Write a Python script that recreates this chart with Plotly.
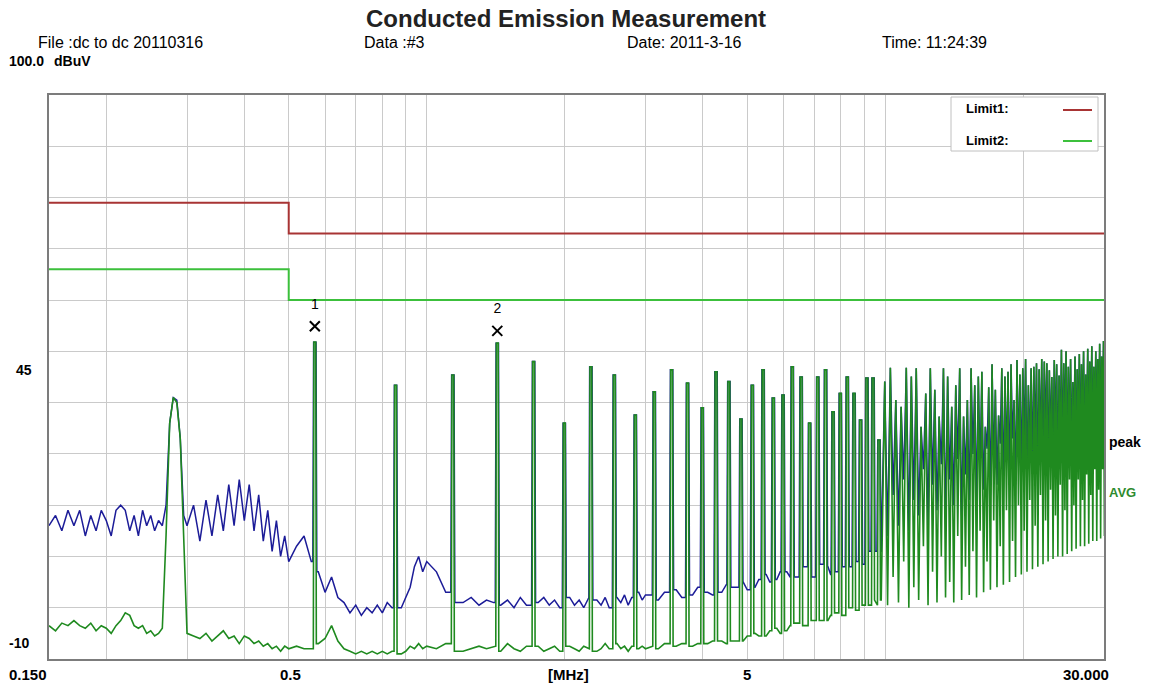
import math
import plotly.graph_objects as go

# ---------------- data ----------------
limit1_freq = [0.15, 0.5, 30.0]
limit1_level = [79, 73, 73]
limit2_freq = [0.15, 0.5, 30.0]
limit2_level = [66, 60, 60]

grid_freq = [0.2, 0.3, 0.4, 0.5, 0.6, 0.7, 0.8, 0.9, 1, 2, 3, 4, 5, 6, 7, 8, 9, 10, 20]
grid_level = [-10, 0, 10, 20, 30, 40, 50, 60, 70, 80, 90, 100]

# harmonic lines (MHz) and their levels (dBuV)
harm_freq = [
    0.570, 0.855, 1.140, 1.425, 1.710, 1.995, 2.280, 2.565, 2.850, 3.135,
    3.420, 3.705, 3.990, 4.275, 4.560, 4.845, 5.130, 5.415, 5.700, 5.985,
    6.270, 6.555, 6.840, 7.125, 7.410, 7.695, 7.980, 8.265, 8.550, 8.835,
    9.120, 9.405, 9.690, 9.975, 10.260, 10.545, 10.830, 11.115, 11.400, 11.685,
    11.970, 12.255, 12.540, 12.825, 13.110, 13.395, 13.680, 13.965, 14.250, 14.535,
    14.820, 15.105, 15.390, 15.675, 15.960, 16.245, 16.530, 16.815, 17.100, 17.385,
    17.670, 17.955, 18.240, 18.525, 18.810, 19.095, 19.380, 19.665, 19.950, 20.235,
    20.520, 20.805, 21.090, 21.375, 21.660, 21.945, 22.230, 22.515, 22.800, 23.085,
    23.370, 23.655, 23.940, 24.225, 24.510, 24.795, 25.080, 25.365, 25.650, 25.935,
    26.220, 26.505, 26.790, 27.075, 27.360, 27.645, 27.930, 28.215, 28.500, 28.785,
    29.070, 29.355, 29.640, 29.925,
]
harm_level = [
    51.8, 43.4, 45.4, 51.6, 48.0, 36.0, 47.0, 45.4, 37.6, 42.1,
    46.4, 43.8, 39.0, 46.0, 44.1, 36.8, 43.4, 46.4, 40.9, 41.5,
    47.0, 45.0, 36.0, 45.0, 46.4, 38.2, 41.8, 45.0, 41.8, 36.6,
    44.8, 44.8, 32.7, 44.1, 46.8, 40.5, 39.2, 46.8, 45.1, 46.7,
    35.3, 41.8, 46.7, 42.5, 37.3, 46.7, 45.1, 39.2, 43.4, 46.7,
    37.3, 40.5, 46.7, 43.4, 45.1, 46.0, 35.3, 43.0, 47.5, 42.5,
    37.5, 46.7, 45.1, 46.0, 47.5, 40.5, 48.3, 45.5, 46.7, 48.5,
    43.4, 46.7, 47.0, 47.7, 46.5, 48.5, 48.0, 47.7, 46.3, 45.0,
    48.3, 47.5, 45.3, 50.3, 47.7, 50.0, 47.0, 48.5, 44.0, 49.0,
    46.5, 49.5, 47.5, 50.0, 45.5, 50.5, 48.0, 51.0, 47.0, 50.0,
    48.5, 51.5, 49.0, 52.0,
]

# level of the trough that follows each line from 9.975 MHz (n=35) up to 29.925 MHz
dip_first_harm = 9.975
avg_dip = [
    0.5, 6, 1, 9, 0, 4, 1.5, 12, 0.5, 7,
    1, 10, 2, 5, 1, 14, 1.5, 8, 2.5, 11,
    2, 15, 3, 9, 3.5, 17, 4, 12, 4.5, 19,
    5, 13, 6, 20, 6.5, 15, 7, 21, 7.5, 16,
    8, 22, 8.5, 17, 9, 23, 9.5, 18, 10, 24,
    10, 19, 10.5, 25, 11, 20, 11.5, 25, 12, 21,
    12, 26, 12.5, 22, 13, 27, 13, 23, 13.5, 27, 14,
]
peak_dip = [
    14, 22, 16, 25, 15, 21, 18, 27, 16, 24,
    19, 28, 17, 25, 20, 29, 18, 26, 21, 30,
    20, 27, 23, 31, 22, 28, 24, 32, 23, 29,
    25, 33, 24, 30, 26, 33, 25, 31, 27, 34,
    26, 32, 28, 35, 27, 33, 29, 35, 28, 34,
    30, 36, 29, 34, 31, 36, 30, 35, 32, 37,
    31, 35, 33, 37, 32, 36, 34, 38, 33, 37, 35,
]

# background between the lines, 0.15 - 10 MHz
floor_freq = [
    0.150, 0.155, 0.160, 0.165, 0.170, 0.175, 0.180, 0.185, 0.190, 0.195,
    0.200, 0.205, 0.210, 0.215, 0.220, 0.225, 0.230, 0.235, 0.240, 0.245,
    0.250, 0.255, 0.260, 0.265, 0.270, 0.275, 0.280, 0.285, 0.290, 0.295, 0.300,
    0.31, 0.32, 0.33, 0.34, 0.35, 0.36, 0.37, 0.38, 0.39, 0.40,
    0.41, 0.42, 0.43, 0.44, 0.45, 0.46, 0.47, 0.48, 0.49, 0.50,
    0.52, 0.54, 0.56, 0.58, 0.60, 0.62, 0.64, 0.66, 0.68, 0.70,
    0.72, 0.74, 0.76, 0.78, 0.80, 0.82, 0.84, 0.86, 0.88, 0.90,
    0.92, 0.94, 0.96, 0.98, 1.00,
    1.05, 1.10, 1.15, 1.20, 1.25, 1.30, 1.35, 1.40, 1.45, 1.50,
    1.55, 1.60, 1.65, 1.70, 1.75, 1.80, 1.85, 1.90, 1.95, 2.00,
    2.05, 2.10, 2.15, 2.20, 2.25, 2.30, 2.35, 2.40, 2.45, 2.50,
    2.55, 2.60, 2.65, 2.70, 2.75, 2.80, 2.85, 2.90, 2.95, 3.00,
    3.1, 3.2, 3.3, 3.4, 3.5, 3.6, 3.7, 3.8, 3.9, 4.0,
    4.1, 4.2, 4.3, 4.4, 4.5, 4.6, 4.7, 4.8, 4.9, 5.0,
    5.1, 5.2, 5.3, 5.4, 5.5, 5.6, 5.7, 5.8, 5.9, 6.0,
    6.1, 6.2, 6.3, 6.4, 6.5, 6.6, 6.7, 6.8, 6.9, 7.0,
    7.1, 7.2, 7.3, 7.4, 7.5, 7.6, 7.7, 7.8, 7.9, 8.0,
    8.1, 8.2, 8.3, 8.4, 8.5, 8.6, 8.7, 8.8, 8.9, 9.0,
    9.1, 9.2, 9.3, 9.4, 9.5, 9.6, 9.7, 9.8, 9.9, 10.0,
]
peak_floor = [
    16, 18, 15, 19, 16, 19, 14, 18, 15, 19,
    17, 14, 19, 20, 19, 15, 18, 14, 19, 16,
    18, 15, 17, 16, 20, 36, 41, 40.5, 33, 18, 16,
    20, 13, 21, 14, 22, 15, 24, 16, 25, 17,
    24, 15, 22, 13, 19, 11, 17, 10, 14, 9,
    12, 14, 9, 7, 3, 6, 2, 1, -1, 0.5,
    -1.5, 0, -1, 0.5, -1, 1, 0, 1.5, 0, 2,
    4, 8, 10, 7, 9,
    7, 3, 5, 1, 2, 0.5, 1.5, 1, 0.5, 1.5,
    0, 2, 0.5, 1, 1, 2, 0.5, 1.5, 0, 1,
    2, 0.5, 1.5, 0, 2, 1, 1.5, 0.5, 2, 0,
    1, 2, 1, 2.5, 0.5, 2, 2, 3, 1.5, 2.5,
    2.5, 1.5, 3, 2, 3.5, 2, 3, 2.5, 4, 2,
    3, 2.5, 4, 3, 4.5, 3, 4, 3.5, 5, 3.5,
    5, 4, 5.5, 4.5, 6.5, 5, 6, 5.5, 7, 5.5,
    7, 6, 7.5, 6, 7, 6.5, 8, 6.5, 7.5, 6,
    7.5, 7, 8.5, 7, 8, 6.5, 7.5, 7, 8.5, 7.5,
    8, 7, 9, 8, 9.5, 8, 9, 8.5, 10, 8.5,
    10, 9, 11, 9.5, 11.5, 10, 12.5, 11, 14, 12,
]
avg_floor = [
    -3.5, -4.5, -3, -3.5, -2.5, -3.5, -4, -3, -4.5, -3.5,
    -4, -5, -3.5, -2.5, -1, -1.5, -3.5, -4, -3.5, -5,
    -4.5, -5.5, -5, -4, 14, 36, 41, 40, 33, 15, -5,
    -5.5, -6, -5, -6.5, -5.5, -4.5, -6, -5.5, -7, -5.5,
    -6, -7, -6.5, -7.5, -7, -8, -7.5, -8.5, -7.5, -8,
    -7.5, -8, -8, -7, -6, -3.5, -6.5, -8, -8.5, -9,
    -8.5, -9, -8.5, -9, -8.5, -9, -8.5, -8, -9, -8.5,
    -7.5, -8, -7, -8, -7.5,
    -8, -7, -8, -8.5, -8, -7.5, -8, -7.5, -8.5, -7,
    -8, -8.5, -7.5, -8, -7.5, -8.5, -8, -7.5, -8.5, -8,
    -7.5, -8, -8.5, -7.5, -8, -7.5, -8.5, -8, -7, -8,
    -7.5, -7, -8, -7.5, -8.5, -7.5, -7, -8, -7.5, -8,
    -7.5, -8, -7, -8.5, -7.5, -7, -8, -7.5, -7, -8,
    -7, -6.5, -7.5, -6.5, -7, -6, -6.5, -5.5, -6.5, -5.5,
    -6, -5, -5.5, -4.5, -5.5, -4.5, -5, -4, -5, -4,
    -4.5, -3.5, -4, -3, -4, -3, -3.5, -2.5, -3, -2.5,
    -3, -2, -2.5, -1.5, -2.5, -1.5, -2, -1, -1.5, -1,
    -1.5, -0.5, -1, 0, -1, 0, -0.5, 0.5, 0, 0.5,
    0, 1, 0.5, 1, 0.5, 1.5, 0.5, 1.5, 1, 1.5,
]

marker_freq = [0.57, 1.425]
marker_level = [54.9, 54.0]
marker_name = ["1", "2"]

title_text = "Conducted Emission Measurement"
header_texts = ["File :dc to dc 20110316", "Data :#3", "Date: 2011-3-16", "Time: 11:24:39"]

assert len(harm_freq) == len(harm_level)
assert len(floor_freq) == len(peak_floor) == len(avg_floor)
assert len(avg_dip) == len(peak_dip)

# ---------------- geometry helpers ----------------
W, H = 1151, 684
PL, PR, PT, PB = 49, 1104, 95, 659
PX_PER_DEC = (PR - PL) / math.log10(30 / 0.15)


def kpx(px):
    return 10 ** (px / PX_PER_DEC)


CLEAR = kpx(2.2)       # background kept clear around a line (style)


def px_x(px):
    return (px - PL) / (PR - PL)


def px_y(py):
    return (PB - py) / (PB - PT)


def build(floor_vals, dip_vals, top_px, foot_px):
    top, foot = kpx(top_px), kpx(foot_px)
    kept = [(f, v) for f, v in zip(floor_freq, floor_vals)
            if not any(h / CLEAR < f < h * CLEAR for h in harm_freq)]
    pts = list(kept)
    i0 = harm_freq.index(dip_first_harm)
    for i, (h, v) in enumerate(zip(harm_freq, harm_level)):
        nxt = harm_freq[i + 1] if i + 1 < len(harm_freq) else h + (h - harm_freq[i - 1])
        if i < i0:
            before = [p for p in kept if p[0] < h]
            after = [p for p in kept if p[0] > h]
            lv = before[-1][1] if before else v
            rv = after[0][1] if after else dip_vals[0]
            pts += [(h / foot, lv), (h / top, v), (h * top, v), (h * foot, rv)]
        else:
            pts.append((h, v))
            pts.append(((h + nxt) / 2, dip_vals[i - i0]))
    pts.sort(key=lambda p: p[0])
    return [p[0] for p in pts], [p[1] for p in pts]


pk_x, pk_y = build(peak_floor, peak_dip, 1.2, 2.0)
av_x, av_y = build(avg_floor, avg_dip, 0.9, 1.5)

RED = "#a83434"
LGREEN = "#3cc03c"
AVG_COL = "#1f8a1f"
PK_COL = "#1c1c98"
FONT = "Liberation Sans, Arial, sans-serif"

fig = go.Figure()
fig.add_trace(go.Scatter(x=limit1_freq, y=limit1_level, mode="lines", line=dict(color=RED, width=2, shape="hv"),
                         showlegend=False, hoverinfo="skip"))
fig.add_trace(go.Scatter(x=limit2_freq, y=limit2_level, mode="lines", line=dict(color=LGREEN, width=2, shape="hv"),
                         showlegend=False, hoverinfo="skip"))
fig.add_trace(go.Scatter(x=pk_x, y=pk_y, mode="lines", line=dict(color=PK_COL, width=1.5),
                         showlegend=False, name="peak"))
fig.add_trace(go.Scatter(x=av_x, y=av_y, mode="lines", line=dict(color=AVG_COL, width=1.6),
                         showlegend=False, name="AVG"))
fig.add_trace(go.Scatter(x=marker_freq, y=marker_level, mode="markers",
                         marker=dict(symbol="x-thin", size=10, line=dict(color="black", width=2), color="black"),
                         showlegend=False, hoverinfo="skip"))
fig.add_trace(go.Scatter(x=marker_freq, y=[v + 4.1 for v in marker_level], mode="text", text=marker_name,
                         textfont=dict(family=FONT, size=14, color="black"), showlegend=False, hoverinfo="skip"))

ann = []


def txt(text, x, y, anchor="left", size=13, bold=False, color="black"):
    t = f"<b>{text}</b>" if bold else text
    ann.append(dict(text=t, x=px_x(x), y=px_y(y), xref="paper", yref="paper", xanchor=anchor, yanchor="middle",
                    showarrow=False, font=dict(family=FONT, size=size, color=color)))


txt(title_text, 566, 19, anchor="center", size=24, bold=True, color="#222222")
txt(header_texts[0], 36, 43, size=16)
txt(header_texts[1], 362, 43, size=16)
txt(header_texts[2], 625, 43, size=16)
txt(header_texts[3], 880, 43, size=16)
txt("100.0", 7, 61, size=14, bold=True)
txt("dBuV", 52, 61, size=14, bold=True)
txt("45", 14, 370, size=14, bold=True)
txt("-10", 7, 643, size=14, bold=True)
txt("0.150", 7, 674, size=15, bold=True)
txt("0.5", 290, 674, anchor="center", size=15, bold=True)
txt("[MHz]", 568, 674, anchor="center", size=15, bold=True)
txt("5", 747, 674, anchor="center", size=15, bold=True)
txt("30.000", 1111, 674, anchor="right", size=15, bold=True)
txt("peak", 1107, 442, size=14, bold=True)
txt("AVG", 1107, 492, size=13, bold=True, color="#2e8b2e")
txt("Limit1:", 964, 109, size=13, bold=True)
txt("Limit2:", 964, 140, size=13, bold=True)

shapes = [
    dict(type="rect", xref="paper", yref="paper", x0=px_x(951), x1=px_x(1098), y0=px_y(151), y1=px_y(97),
         fillcolor="white", line=dict(color="#c0c0c0", width=1), layer="above"),
    dict(type="line", xref="paper", yref="paper", x0=px_x(1063), x1=px_x(1092), y0=px_y(110), y1=px_y(110),
         line=dict(color=RED, width=2), layer="above"),
    dict(type="line", xref="paper", yref="paper", x0=px_x(1063), x1=px_x(1092), y0=px_y(141), y1=px_y(141),
         line=dict(color=LGREEN, width=2), layer="above"),
]

fig.update_layout(
    width=W, height=H, autosize=False,
    margin=dict(l=PL, r=W - PR, t=PT, b=H - PB, pad=0),
    paper_bgcolor="white", plot_bgcolor="white",
    annotations=ann, shapes=shapes, showlegend=False,
    xaxis=dict(type="log", range=[math.log10(0.15), math.log10(30)], tickvals=grid_freq, showticklabels=False,
               ticks="", showgrid=True, gridcolor="#cacaca", gridwidth=1, zeroline=False,
               showline=True, mirror=True, linecolor="#7c7c7c", linewidth=2),
    yaxis=dict(range=[-10, 100], tickvals=grid_level, showticklabels=False, ticks="", showgrid=True,
               gridcolor="#cacaca", gridwidth=1, zeroline=False,
               showline=True, mirror=True, linecolor="#7c7c7c", linewidth=2),
)

fig.write_html("out.html", config={"displayModeBar": False},
               post_script="document.body.style.margin='0';document.body.style.overflow='hidden';")
